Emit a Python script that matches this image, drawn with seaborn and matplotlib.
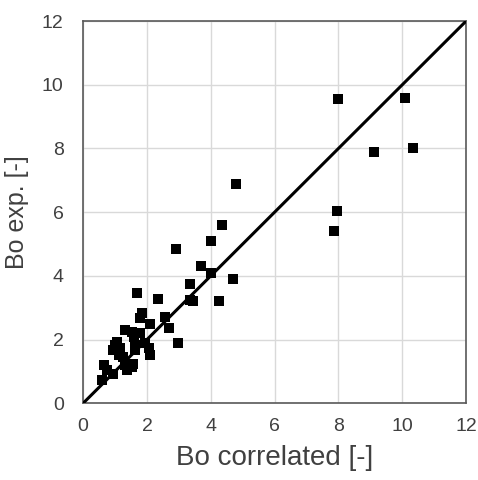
import matplotlib
matplotlib.use("Agg")
import matplotlib.pyplot as plt
import seaborn as sns
import pandas as pd

bo_correlated = [8.0, 10.1, 9.1, 10.35, 7.95, 7.85,
                 4.8, 4.35, 4.0, 2.9, 3.7, 4.0, 4.7, 3.35, 3.35, 3.45, 4.25, 2.33,
                 1.68, 1.84, 1.77, 2.08, 2.57, 2.70, 2.96,
                 1.32, 1.53, 1.79, 1.58, 1.94, 2.05, 2.10, 1.63, 1.63,
                 1.0, 0.95, 1.16, 1.11, 1.06, 1.26, 0.64, 0.74, 1.32, 1.53,
                 1.37, 0.95, 0.59, 1.57]
bo_exp = [9.55, 9.6, 7.9, 8.0, 6.05, 5.4,
          6.9, 5.6, 5.1, 4.85, 4.3, 4.1, 3.9, 3.75, 3.25, 3.2, 3.2, 3.26,
          3.47, 2.82, 2.69, 2.5, 2.71, 2.35, 1.90,
          2.30, 2.24, 2.19, 2.08, 1.88, 1.72, 1.51, 1.82, 1.67,
          1.82, 1.67, 1.73, 1.51, 1.93, 1.46, 1.19, 1.04, 1.19, 1.14,
          1.04, 0.93, 0.72, 1.22]
diag = [0, 12]

df = pd.DataFrame({"x": bo_correlated, "y": bo_exp})

sns.set_style("whitegrid")
plt.rcParams['font.family'] = ['Liberation Sans', 'DejaVu Sans']

fig = plt.figure(figsize=(4.78, 4.80), dpi=100)
ax = fig.add_axes([0.174, 0.160, 0.801, 0.796])

sns.scatterplot(data=df, x="x", y="y", marker="s", s=42, color="black",
                edgecolor="black", linewidth=0, ax=ax, zorder=3)
sns.lineplot(x=diag, y=diag, color="black", linewidth=2.2, ax=ax, zorder=4)

ax.set_xlim(0, 12)
ax.set_ylim(0, 12)
ax.set_xticks(range(0, 13, 2))
ax.set_yticks(range(0, 13, 2))
ax.grid(True, color="#d9d9d9", linewidth=1)
for sp in ax.spines.values():
    sp.set_color("#595959")
    sp.set_linewidth(1.2)
ax.tick_params(length=0, labelsize=14, labelcolor="#404040")
ax.tick_params(axis="x", pad=11)
ax.tick_params(axis="y", pad=14)
ax.set_xlabel("Bo correlated [-]", fontsize=20, color="#404040", labelpad=7)
ax.set_ylabel("Bo exp. [-]", fontsize=18, color="#404040", labelpad=9)

fig.savefig("out.png", dpi=100)
